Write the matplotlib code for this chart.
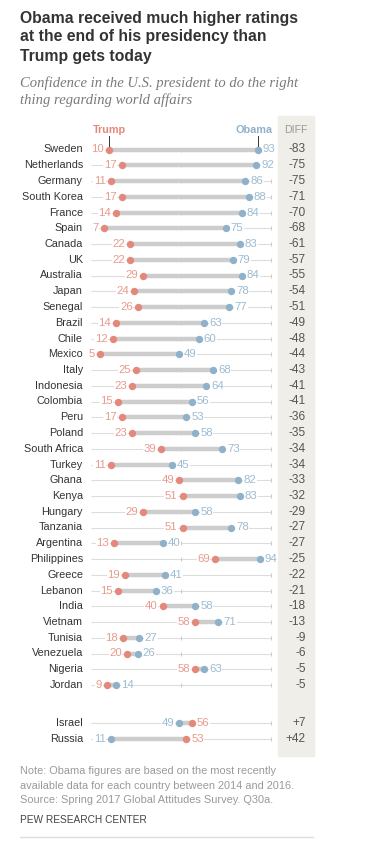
import matplotlib
matplotlib.use("Agg")
import matplotlib.pyplot as plt
from matplotlib.lines import Line2D

# ---- DATA ---- #
countries = ["Sweden", "Netherlands", "Germany", "South Korea", "France", "Spain",
             "Canada", "UK", "Australia", "Japan", "Senegal", "Brazil", "Chile",
             "Mexico", "Italy", "Indonesia", "Colombia", "Peru", "Poland",
             "South Africa", "Turkey", "Ghana", "Kenya", "Hungary", "Tanzania",
             "Argentina", "Philippines", "Greece", "Lebanon", "India", "Vietnam",
             "Tunisia", "Venezuela", "Nigeria", "Jordan", "Israel", "Russia"]
trump = [10, 17, 11, 17, 14, 7, 22, 22, 29, 24, 26, 14, 12, 5, 25, 23, 15, 17, 23,
         39, 11, 49, 51, 29, 51, 13, 69, 19, 15, 40, 58, 18, 20, 58, 9, 56, 53]
obama = [93, 92, 86, 88, 84, 75, 83, 79, 84, 78, 77, 63, 60, 49, 68, 64, 56, 53, 58,
         73, 45, 82, 83, 58, 78, 40, 94, 41, 36, 58, 71, 27, 26, 63, 14, 49, 11]
diffs = ["-83", "-75", "-75", "-71", "-70", "-68", "-61", "-57", "-55", "-54", "-51",
         "-49", "-48", "-44", "-43", "-41", "-41", "-36", "-35", "-34", "-34", "-33",
         "-32", "-29", "-27", "-27", "-25", "-22", "-21", "-18", "-13", "-9", "-6",
         "-5", "-5", "+7", "+42"]
# row positions (Israel and Russia set apart below the gap)
rows = list(range(35)) + [36.4, 37.45]

# ---- STYLE ---- #
W, H = 369, 842
TRUMP_C = "#e3887b"
OBAMA_C = "#8fb1ca"
TRUMP_T = "#e89a8f"
OBAMA_T = "#9dbbd0"
FONT = "Liberation Sans"
plt.rcParams["font.family"] = [FONT, "DejaVu Sans"]

fig = plt.figure(figsize=(W / 100, H / 100), dpi=100)
fig.patch.set_facecolor("white")


def fx(px):
    return px / W


def fy(py):
    return 1 - py / H


# ---- TITLE / SUBTITLE ---- #
title_lines = ["Obama received much higher ratings",
               "at the end of his presidency than",
               "Trump gets today"]
for i, line in enumerate(title_lines):
    fig.text(fx(20), fy(22.5 + i * 19), line, fontsize=11.3, fontweight="bold",
             color="#333333", va="baseline", ha="left")

sub_lines = ["Confidence in the U.S. president to do the right",
             "thing regarding world affairs"]
for i, line in enumerate(sub_lines):
    fig.text(fx(20), fy(87.5 + i * 16.5), line, fontsize=10.5, style="italic",
             family="Liberation Serif", color="#7a7a7a", va="baseline", ha="left")

# ---- MAIN AXES ---- #
x0_px, x100_px = 91, 270.5
top_px, bot_px = 116, 756
row0_px, row_step = 149.5, 15.75
ax = fig.add_axes([fx(x0_px), fy(bot_px), (x100_px - x0_px) / W, (bot_px - top_px) / H])
ax.set_xlim(0, 100)
ax.set_ylim((bot_px - row0_px) / row_step, (top_px - row0_px) / row_step)
ax.axis("off")

ux = 100 / (x100_px - x0_px)  # data units per pixel
# DIFF column shading
ax.axvspan((278 - x0_px) * ux, (314 - x0_px) * ux, color="#efeee8", zorder=0, clip_on=False)

for c, t, o, d, y in zip(countries, trump, obama, diffs, rows):
    ax.plot([0, 100], [y, y], color="#dddddd", lw=0.8, zorder=1, solid_capstyle="butt")
    ax.plot([50, 100], [y, y], ls="none", marker="|", ms=3.5, mew=0.8, color="#cccccc", zorder=1)
    ax.plot([min(t, o), max(t, o)], [y, y], color="#cdcdcd", lw=3.2, zorder=2,
            solid_capstyle="butt")
    ax.plot(t, y, "o", ms=5.3, color=TRUMP_C, mec="none", zorder=4)
    ax.plot(o, y, "o", ms=5.3, color=OBAMA_C, mec="none", zorder=4)
    lo_side = -1 if t <= o else 1
    for val, col, side in ((t, TRUMP_T, lo_side), (o, OBAMA_T, -lo_side)):
        ax.annotate(str(val), (val, y), xytext=(side * 3.6, 0), textcoords="offset points",
                    ha="right" if side < 0 else "left", va="center", fontsize=8.2,
                    color=col, zorder=3,
                    bbox=dict(boxstyle="square,pad=0.05", fc="white", ec="none"))
    ax.text((83 - x0_px) * ux, y, c, ha="right", va="center", fontsize=7.8,
            color="#333333", clip_on=False)
    ax.text((306 - x0_px) * ux, y, d, ha="right", va="center", fontsize=8.6,
            color="#555555", clip_on=False)

# ---- HEADERS ---- #
hy = (130 - row0_px) / row_step
ax.text(trump[0], hy, "Trump", ha="center", va="center", fontsize=7.8,
        fontweight="bold", color=TRUMP_C, clip_on=False)
ax.text(obama[0] - 2, hy, "Obama", ha="center", va="center", fontsize=7.8,
        fontweight="bold", color=OBAMA_C, clip_on=False)
ax.text((296 - x0_px) * ux, hy, "DIFF", ha="center", va="center", fontsize=7.6,
        color="#999999", clip_on=False)
for v in (trump[0], obama[0]):
    ax.plot([v, v], [(136 - row0_px) / row_step, -0.25], color="#333333", lw=0.7, zorder=5)

# ---- NOTES ---- #
notes = ["Note: Obama figures are based on the most recently",
         "available data for each country between 2014 and 2016.",
         "Source: Spring 2017 Global Attitudes Survey. Q30a."]
for i, line in enumerate(notes):
    fig.text(fx(20), fy(774.5 + i * 14.2), line, fontsize=7.9, color="#9a9a9a",
             va="baseline", ha="left")
fig.text(fx(20), fy(823), "PEW RESEARCH CENTER", fontsize=7.3, color="#444444",
         va="baseline", ha="left")
fig.add_artist(Line2D([fx(20), fx(313)], [fy(837), fy(837)], color="#dddddd", lw=1))

plt.savefig("out.png", dpi=100)
